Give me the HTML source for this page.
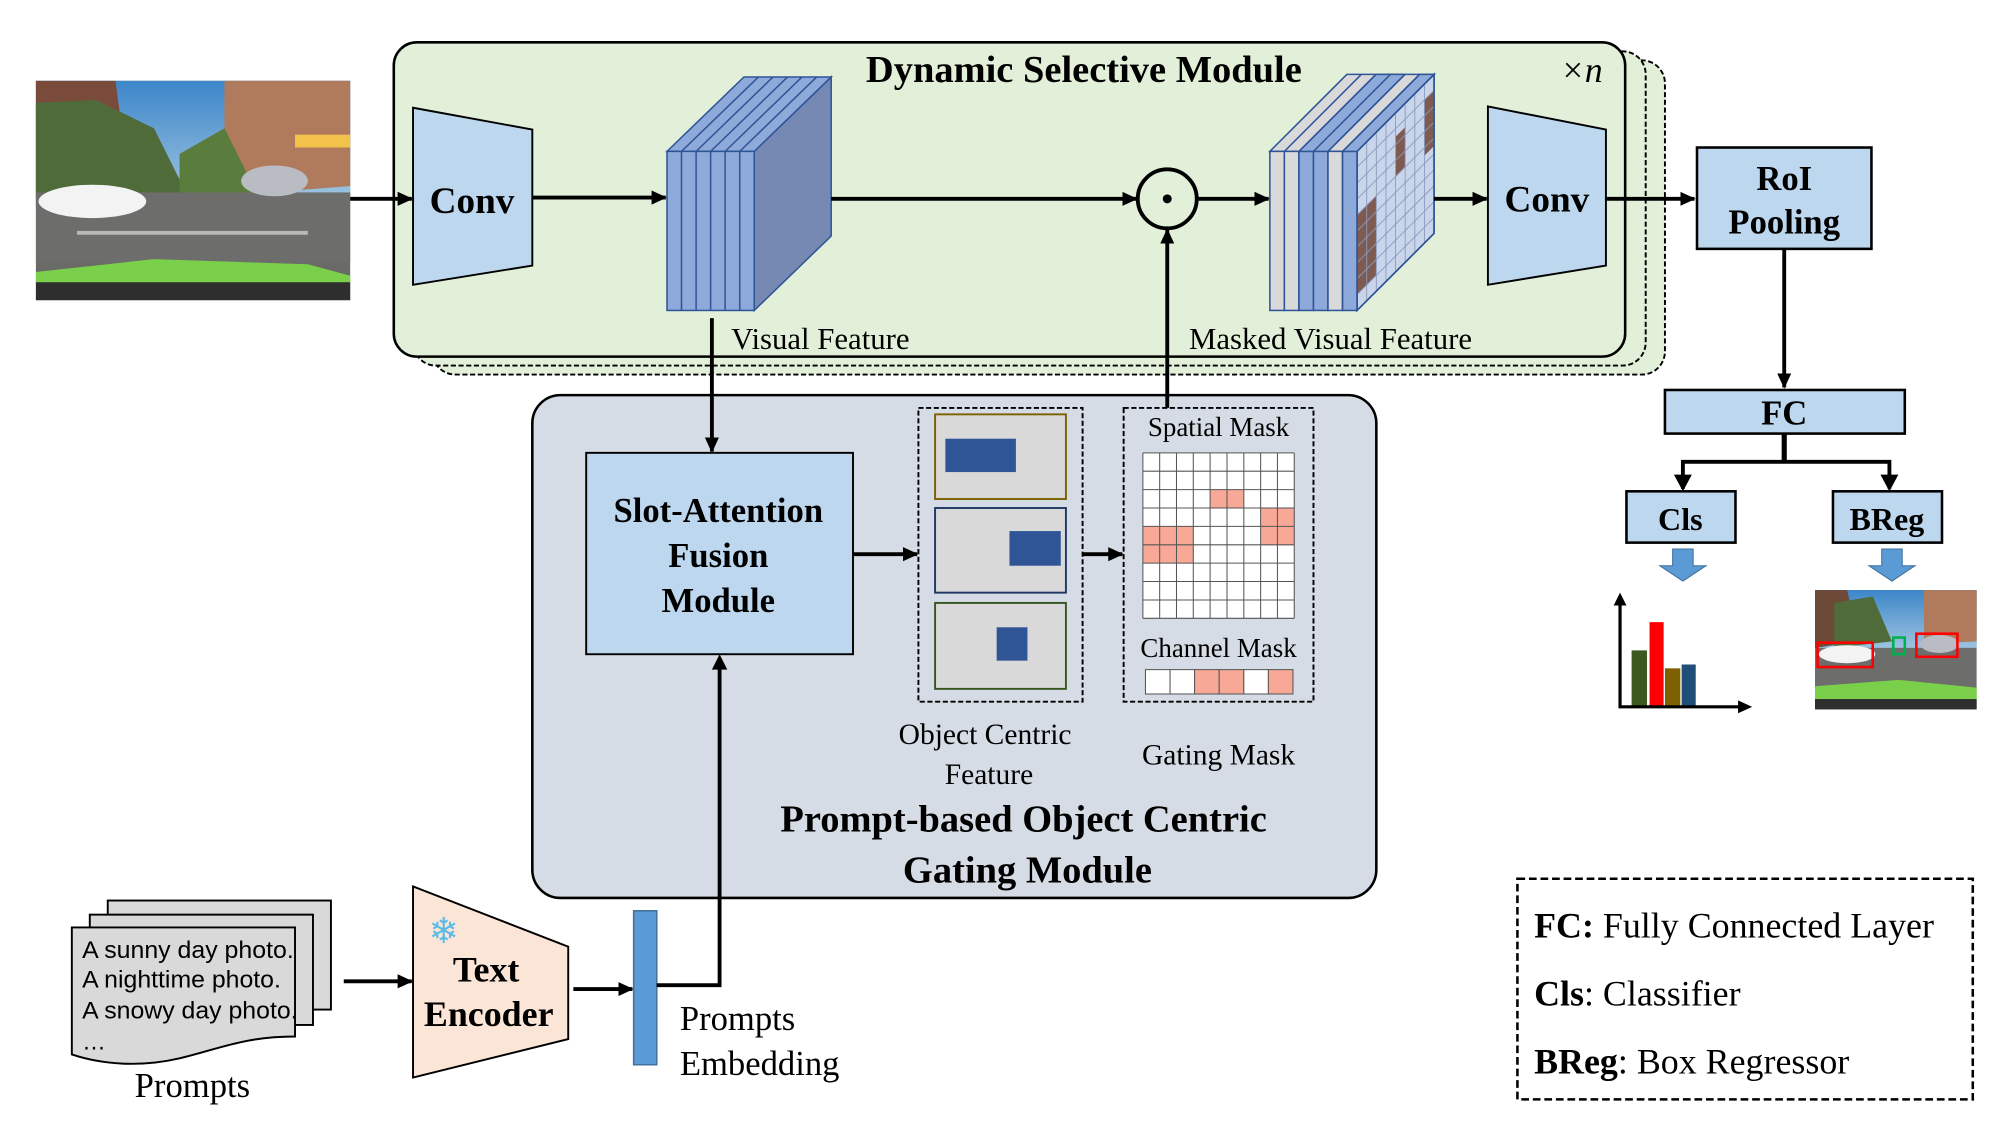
<!DOCTYPE html>
<html><head><meta charset="utf-8"><style>html,body{margin:0;padding:0;background:#fff}svg{display:block}</style></head>
<body>
<svg width="2001" height="1134" viewBox="0 0 1560 884" preserveAspectRatio="none" xmlns="http://www.w3.org/2000/svg" font-family="'Liberation Serif', serif">
<defs>
<marker id="ah" markerWidth="12" markerHeight="12" refX="11" refY="6" orient="auto" markerUnits="userSpaceOnUse"><path d="M0,0.5 L12,6 L0,11.5 z" fill="#000"/></marker>
<linearGradient id="sky" x1="0" y1="0" x2="0" y2="1"><stop offset="0" stop-color="#3d86c9"/><stop offset="1" stop-color="#9cc3e0"/></linearGradient>
</defs>

<rect x="337" y="47" width="961" height="245" rx="18" fill="#e2efd9" stroke="#000" stroke-width="1.5" stroke-dasharray="4,2"/>
<rect x="322" y="40" width="961" height="245" rx="18" fill="#e2efd9" stroke="#000" stroke-width="1.5" stroke-dasharray="4,2"/>
<rect x="307" y="33" width="960" height="245" rx="18" fill="#e2efd9" stroke="#000" stroke-width="2"/>
<text x="845" y="64" font-size="30" font-weight="bold" text-anchor="middle">Dynamic Selective Module</text>
<text x="1233" y="64" font-size="28" text-anchor="middle" font-style="italic">×n</text>

<g>
<rect x="28" y="63" width="245" height="171" fill="#6a6a66"/>
<rect x="28" y="63" width="245" height="90" fill="url(#sky)"/>
<polygon points="28,63 90,63 95,100 110,150 28,160" fill="#7a4a3a"/>
<polygon points="28,80 75,78 120,100 145,150 28,155" fill="#4f6b3a"/>
<polygon points="175,63 273,63 273,145 210,150 175,150" fill="#b07b5c"/>
<polygon points="140,120 175,100 200,150 140,152" fill="#5a7d3e"/>
<rect x="230" y="105" width="43" height="10" fill="#f2c24a"/>
<rect x="28" y="150" width="245" height="55" fill="#6d6d6b"/>
<rect x="60" y="180" width="180" height="3" fill="#b8b8b8"/>
<ellipse cx="72" cy="157" rx="42" ry="13" fill="#f3f3f3"/>
<ellipse cx="214" cy="141" rx="26" ry="12" fill="#b9bcc2"/>
<polygon points="28,212 120,202 240,206 273,215 273,222 28,222" fill="#7ad04a"/>
<rect x="28" y="220" width="245" height="14" fill="#2e2e2e"/>
</g>

<line x1="273" y1="155" x2="321" y2="155" stroke="#000" stroke-width="3" marker-end="url(#ah)"/>
<polygon points="322,84 415,101 415,207 322,222" fill="#bdd7ee" stroke="#000" stroke-width="1.5"/>
<text x="368" y="166" font-size="29" font-weight="bold" text-anchor="middle">Conv</text>
<line x1="415" y1="154" x2="519" y2="154" stroke="#000" stroke-width="3" marker-end="url(#ah)"/>

<g stroke="#2f5597" stroke-width="1.2">
<polygon points="588,118 648,60 648,184 588,242" fill="#7689b3"/>
<polygon points="520,118 580,60 648,60 588,118" fill="#8eaadb"/>
<rect x="520" y="118" width="68" height="124" fill="#8eaadb"/>
<line x1="531.3" y1="118" x2="531.3" y2="242"/><line x1="542.7" y1="118" x2="542.7" y2="242"/><line x1="554" y1="118" x2="554" y2="242"/><line x1="565.3" y1="118" x2="565.3" y2="242"/><line x1="576.7" y1="118" x2="576.7" y2="242"/>
<line x1="531.3" y1="118" x2="591.3" y2="60"/><line x1="542.7" y1="118" x2="602.7" y2="60"/><line x1="554" y1="118" x2="614" y2="60"/><line x1="565.3" y1="118" x2="625.3" y2="60"/><line x1="576.7" y1="118" x2="636.7" y2="60"/>
</g>
<text x="570" y="272" font-size="24">Visual Feature</text>
<line x1="648" y1="155" x2="886" y2="155" stroke="#000" stroke-width="3" marker-end="url(#ah)"/>
<circle cx="910" cy="155" r="23" fill="none" stroke="#000" stroke-width="3"/>
<circle cx="910" cy="155" r="3.5" fill="#000"/>
<line x1="933" y1="155" x2="989" y2="155" stroke="#000" stroke-width="3" marker-end="url(#ah)"/>

<g stroke="#2f5597" stroke-width="1.2">
<polygon points="1058,118 1118,58 1118,182 1058,242" fill="#c9d5ea"/>
<polygon points="990,118 1050,58 1118,58 1058,118" fill="#d9d9d9"/>
<rect x="990" y="118" width="11.3" height="124" fill="#d9d9d9"/>
<rect x="1001.3" y="118" width="11.3" height="124" fill="#d9d9d9"/>
<rect x="1012.7" y="118" width="11.3" height="124" fill="#8eaadb"/>
<rect x="1024" y="118" width="11.3" height="124" fill="#8eaadb"/>
<rect x="1035.3" y="118" width="11.3" height="124" fill="#d9d9d9"/>
<rect x="1046.7" y="118" width="11.3" height="124" fill="#8eaadb"/>
<polygon points="1012.7,118 1072.7,58 1095.3,58 1035.3,118" fill="#8eaadb"/>
<polygon points="1046.7,118 1106.7,58 1118,58 1058,118" fill="#8eaadb"/>
<line x1="1001.3" y1="118" x2="1061.3" y2="58"/><line x1="1012.7" y1="118" x2="1072.7" y2="58"/><line x1="1024" y1="118" x2="1084" y2="58"/><line x1="1035.3" y1="118" x2="1095.3" y2="58"/><line x1="1046.7" y1="118" x2="1106.7" y2="58"/>
</g>
<g fill="#7f5a50">
<polygon points="1088,106.6 1095.5,99.1 1095.5,130.1 1088,137.6"/>
<polygon points="1110.5,77.9 1118,70.4 1118,113.8 1110.5,121.3"/>
<polygon points="1058,167.6 1073,152.6 1073,214.6 1058,229.6"/>
</g>
<g stroke="#8a9bbd" stroke-width="0.7">
<line x1="1065.5" y1="110.5" x2="1065.5" y2="234.5"/><line x1="1073" y1="103" x2="1073" y2="227"/><line x1="1080.5" y1="95.5" x2="1080.5" y2="219.5"/><line x1="1088" y1="88" x2="1088" y2="212"/><line x1="1095.5" y1="80.5" x2="1095.5" y2="204.5"/><line x1="1103" y1="73" x2="1103" y2="197"/><line x1="1110.5" y1="65.5" x2="1110.5" y2="189.5"/>
<line x1="1058" y1="130.4" x2="1118" y2="70.4"/><line x1="1058" y1="142.8" x2="1118" y2="82.8"/><line x1="1058" y1="155.2" x2="1118" y2="95.2"/><line x1="1058" y1="167.6" x2="1118" y2="107.6"/><line x1="1058" y1="180" x2="1118" y2="120"/><line x1="1058" y1="192.4" x2="1118" y2="132.4"/><line x1="1058" y1="204.8" x2="1118" y2="144.8"/><line x1="1058" y1="217.2" x2="1118" y2="157.2"/><line x1="1058" y1="229.6" x2="1118" y2="169.6"/>
</g>
<polygon points="1058,118 1118,58 1118,182 1058,242" fill="none" stroke="#2f5597" stroke-width="1.2"/>
<text x="927" y="272" font-size="24">Masked Visual Feature</text>

<line x1="1118" y1="155" x2="1159" y2="155" stroke="#000" stroke-width="3" marker-end="url(#ah)"/>
<polygon points="1160,83 1252,101 1252,207 1160,222" fill="#bdd7ee" stroke="#000" stroke-width="1.5"/>
<text x="1206" y="165" font-size="29" font-weight="bold" text-anchor="middle">Conv</text>
<line x1="1252" y1="155" x2="1321" y2="155" stroke="#000" stroke-width="3" marker-end="url(#ah)"/>

<rect x="1323" y="115" width="136" height="79" fill="#bdd7ee" stroke="#000" stroke-width="2"/>
<text x="1391" y="148" font-size="27" font-weight="bold" text-anchor="middle">RoI</text>
<text x="1391" y="182" font-size="27" font-weight="bold" text-anchor="middle">Pooling</text>
<line x1="1391" y1="194" x2="1391" y2="302" stroke="#000" stroke-width="3" marker-end="url(#ah)"/>
<rect x="1298" y="304" width="187" height="34" fill="#bdd7ee" stroke="#000" stroke-width="2"/>
<text x="1391" y="331" font-size="27" font-weight="bold" text-anchor="middle">FC</text>
<polyline points="1391,338 1391,360" fill="none" stroke="#000" stroke-width="4"/>
<polyline points="1312,381 1312,360 1473,360 1473,381" fill="none" stroke="#000" stroke-width="3"/>
<polygon points="1305,370 1319,370 1312,383" fill="#000"/>
<polygon points="1466,370 1480,370 1473,383" fill="#000"/>
<rect x="1268" y="383" width="85" height="40" fill="#bdd7ee" stroke="#000" stroke-width="2"/>
<text x="1310" y="413" font-size="25" font-weight="bold" text-anchor="middle">Cls</text>
<rect x="1429" y="383" width="85" height="40" fill="#bdd7ee" stroke="#000" stroke-width="2"/>
<text x="1471" y="413" font-size="25" font-weight="bold" text-anchor="middle">BReg</text>
<polygon points="1304,428 1320,428 1320,441 1330,441 1312,453 1294,441 1304,441" fill="#5b9bd5" stroke="#41719c" stroke-width="0.8"/>
<polygon points="1467,428 1483,428 1483,441 1493,441 1475,453 1457,441 1467,441" fill="#5b9bd5" stroke="#41719c" stroke-width="0.8"/>
<rect x="1272" y="507" width="12" height="44" fill="#3c5a1f"/>
<rect x="1286" y="485" width="11" height="66" fill="#ff0000"/>
<rect x="1298" y="521" width="12" height="30" fill="#7f6000"/>
<rect x="1311" y="518" width="11" height="33" fill="#1f4e79"/>
<line x1="1263" y1="552" x2="1263" y2="470" stroke="#000" stroke-width="2.5"/>
<polygon points="1258,472 1268,472 1263,462" fill="#000"/>
<line x1="1262" y1="551" x2="1356" y2="551" stroke="#000" stroke-width="2.5"/>
<polygon points="1355,546 1355,556 1366,551" fill="#000"/>
<g>
<rect x="1415" y="460" width="126" height="93" fill="#6d6d6b"/>
<rect x="1415" y="460" width="126" height="45" fill="url(#sky)"/>
<polygon points="1415,460 1440,460 1450,500 1415,505" fill="#6d4a38"/>
<polygon points="1430,470 1460,465 1475,500 1430,505" fill="#4f6b3a"/>
<polygon points="1500,460 1541,460 1541,500 1500,502" fill="#b07b5c"/>
<ellipse cx="1440" cy="510" rx="22" ry="7" fill="#f3f3f3"/>
<ellipse cx="1512" cy="502" rx="15" ry="7" fill="#b9bcc2"/>
<polygon points="1415,535 1480,530 1541,536 1541,545 1415,545" fill="#7ad04a"/>
<rect x="1415" y="545" width="126" height="8" fill="#2e2e2e"/>
<rect x="1417" y="501" width="43" height="19" fill="none" stroke="#ff0000" stroke-width="2"/>
<rect x="1494" y="494" width="32" height="18" fill="none" stroke="#ff0000" stroke-width="2"/>
<rect x="1476" y="497" width="9" height="13" fill="none" stroke="#00b050" stroke-width="2"/>
</g>

<rect x="415" y="308" width="658" height="392" rx="22" fill="#d6dce5" stroke="#000" stroke-width="2"/>
<line x1="555" y1="248" x2="555" y2="352" stroke="#000" stroke-width="3" marker-end="url(#ah)"/>
<rect x="457" y="353" width="208" height="157" fill="#bdd7ee" stroke="#000" stroke-width="1.5"/>
<text x="560" y="407" font-size="27" font-weight="bold" text-anchor="middle">Slot-Attention</text>
<text x="560" y="442" font-size="27" font-weight="bold" text-anchor="middle">Fusion</text>
<text x="560" y="477" font-size="27" font-weight="bold" text-anchor="middle">Module</text>
<line x1="665" y1="432" x2="715" y2="432" stroke="#000" stroke-width="3" marker-end="url(#ah)"/>
<rect x="716" y="318" width="128" height="229" fill="none" stroke="#000" stroke-width="1.5" stroke-dasharray="4,2"/>
<rect x="729" y="323" width="102" height="66" fill="#d9d9d9" stroke="#7f6000" stroke-width="1.5"/>
<rect x="737" y="342" width="55" height="26" fill="#2f5597"/>
<rect x="729" y="396" width="102" height="66" fill="#d9d9d9" stroke="#1f3864" stroke-width="1.5"/>
<rect x="787" y="414" width="40" height="27" fill="#2f5597"/>
<rect x="729" y="470" width="102" height="67" fill="#d9d9d9" stroke="#375623" stroke-width="1.5"/>
<rect x="777" y="489" width="24" height="26" fill="#2f5597"/>
<line x1="844" y1="432" x2="875" y2="432" stroke="#000" stroke-width="3" marker-end="url(#ah)"/>
<rect x="876" y="318" width="148" height="229" fill="none" stroke="#000" stroke-width="1.5" stroke-dasharray="4,2"/>
<text x="950" y="340" font-size="21" text-anchor="middle">Spatial Mask</text>
<rect x="891" y="353" width="118" height="129" fill="#fff"/>
<g fill="#f8a896">
<rect x="943.4" y="381.7" width="26.2" height="14.3"/>
<rect x="982.8" y="396" width="26.2" height="28.7"/>
<rect x="891" y="410.3" width="39.3" height="28.7"/>
</g>
<g stroke="#555" stroke-width="0.8">
<path d="M891,353V482M904.1,353V482M917.2,353V482M930.3,353V482M943.4,353V482M956.6,353V482M969.7,353V482M982.8,353V482M995.9,353V482M1009,353V482"/>
<path d="M891,353H1009M891,367.3H1009M891,381.7H1009M891,396H1009M891,410.3H1009M891,424.7H1009M891,439H1009M891,453.3H1009M891,467.7H1009M891,482H1009"/>
</g>
<text x="950" y="512" font-size="21" text-anchor="middle">Channel Mask</text>
<g stroke="#555" stroke-width="0.8">
<rect x="893" y="522" width="19.2" height="19" fill="#fff"/>
<rect x="912.2" y="522" width="19.2" height="19" fill="#fff"/>
<rect x="931.3" y="522" width="19.2" height="19" fill="#f8a896"/>
<rect x="950.5" y="522" width="19.2" height="19" fill="#f8a896"/>
<rect x="969.7" y="522" width="19.2" height="19" fill="#fff"/>
<rect x="988.8" y="522" width="19.2" height="19" fill="#f8a896"/>
</g>
<line x1="910" y1="318" x2="910" y2="179" stroke="#000" stroke-width="3" marker-end="url(#ah)"/>
<text x="768" y="580" font-size="23" text-anchor="middle">Object Centric</text>
<text x="771" y="611" font-size="23" text-anchor="middle">Feature</text>
<text x="950" y="596" font-size="23" text-anchor="middle">Gating Mask</text>
<text x="798" y="648" font-size="30" font-weight="bold" text-anchor="middle">Prompt-based Object Centric</text>
<text x="801" y="688" font-size="30" font-weight="bold" text-anchor="middle">Gating Module</text>

<rect x="84" y="702" width="174" height="85" fill="#d9d9d9" stroke="#000" stroke-width="1.5"/>
<rect x="70" y="713" width="174" height="86" fill="#d9d9d9" stroke="#000" stroke-width="1.5"/>
<path d="M56,723 H230 V808 C190,808 170,818 140,825 C110,832 80,830 56,822 Z" fill="#d9d9d9" stroke="#000" stroke-width="1.5"/>
<g font-family="'Liberation Sans', sans-serif" font-size="18.5">
<text x="64" y="747" textLength="165" lengthAdjust="spacingAndGlyphs">A sunny day photo.</text>
<text x="64" y="770" textLength="155" lengthAdjust="spacingAndGlyphs">A nighttime photo.</text>
<text x="64" y="794" textLength="168" lengthAdjust="spacingAndGlyphs">A snowy day photo.</text>
<text x="64" y="818">…</text>
</g>
<text x="150" y="855" font-size="27" text-anchor="middle">Prompts</text>
<line x1="268" y1="765" x2="321" y2="765" stroke="#000" stroke-width="3" marker-end="url(#ah)"/>
<polygon points="322,691 443,738 443,810 322,840" fill="#fbe5d6" stroke="#000" stroke-width="1.5"/>
<text x="346" y="735" font-size="28" fill="#5bbbe8" text-anchor="middle" font-family="'DejaVu Sans', sans-serif">❄</text>
<text x="379" y="765" font-size="28" font-weight="bold" text-anchor="middle">Text</text>
<text x="381" y="800" font-size="28" font-weight="bold" text-anchor="middle">Encoder</text>
<line x1="447" y1="771" x2="493" y2="771" stroke="#000" stroke-width="3" marker-end="url(#ah)"/>
<rect x="494" y="710" width="18" height="120" fill="#5b9bd5" stroke="#41719c" stroke-width="1.2"/>
<polyline points="512,768 561,768 561,520" fill="none" stroke="#000" stroke-width="3"/>
<polygon points="555,522 567,522 561,510" fill="#000"/>
<text x="530" y="803" font-size="27">Prompts</text>
<text x="530" y="838" font-size="27">Embedding</text>

<rect x="1183" y="685" width="355" height="172" fill="none" stroke="#000" stroke-width="2" stroke-dasharray="6,3"/>
<text x="1196" y="731" font-size="28"><tspan font-weight="bold">FC:</tspan> Fully Connected Layer</text>
<text x="1196" y="784" font-size="28"><tspan font-weight="bold">Cls</tspan>: Classifier</text>
<text x="1196" y="837" font-size="28"><tspan font-weight="bold">BReg</tspan>: Box Regressor</text>
</svg>
</body></html>
